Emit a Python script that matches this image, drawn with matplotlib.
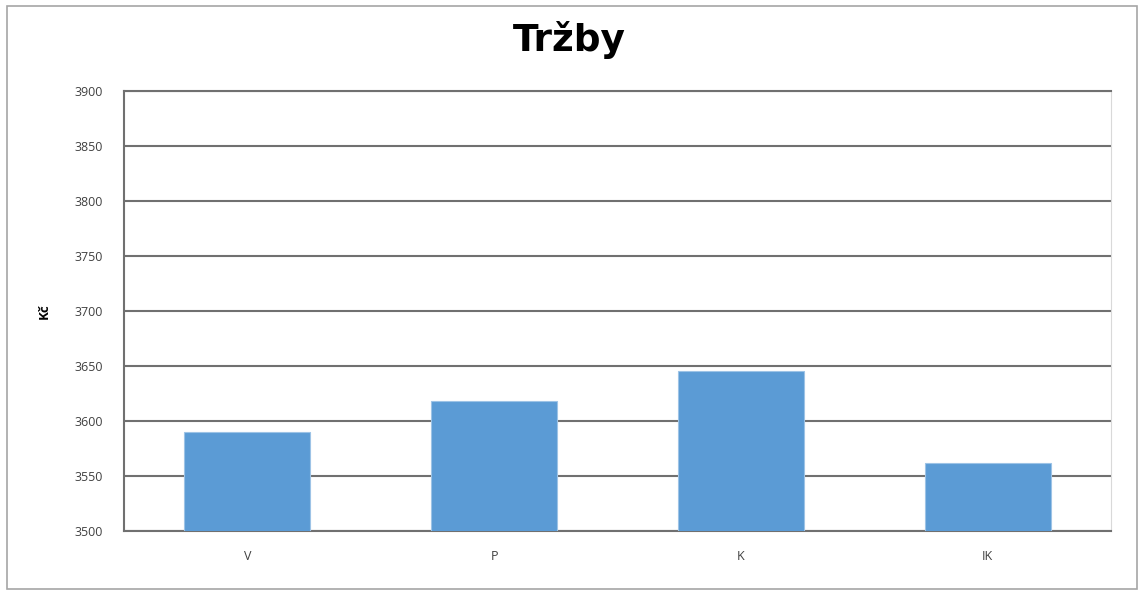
import matplotlib
matplotlib.use('Agg')
import matplotlib.pyplot as plt
from matplotlib.patches import Rectangle

categories = ['V', 'P', 'K', 'IK']
sales = [3590, 3618, 3645, 3562]
yticks = [3500, 3550, 3600, 3650, 3700, 3750, 3800, 3850, 3900]

plt.rcParams['font.family'] = ['Open Sans', 'DejaVu Sans']

fig = plt.figure(figsize=(11.39, 5.90), dpi=100)
ax = fig.add_axes([124 / 1139, 1 - 531 / 590, 987 / 1139, 440 / 590])

x = range(len(categories))
ax.bar(x, sales, width=0.51, color='#5b9bd5', edgecolor='#9dc3e6', linewidth=0.8, zorder=3)

ax.set_xlim(-0.5, len(categories) - 0.5)
ax.set_ylim(3500, 3900)
ax.set_yticks(yticks)
ax.set_xticks(list(x))
ax.set_xticklabels(categories)
ax.tick_params(axis='both', length=0, labelsize=9, colors='#404040')
ax.tick_params(axis='x', pad=14)
ax.tick_params(axis='y', pad=15)

ax.yaxis.grid(True, color='#707070', linewidth=1.5, zorder=0)
ax.set_axisbelow(True)
for side in ['top', 'bottom', 'left']:
    ax.spines[side].set_color('#707070')
    ax.spines[side].set_linewidth(1.5)
ax.spines['right'].set_color('#d9d9d9')

ax.set_ylabel('Kč', fontsize=9.5, fontweight='bold', labelpad=17)
fig.text(0.5, 1 - 40 / 590, 'Tržby', ha='center', va='center', fontsize=27, fontweight='bold',
         family=['DejaVu Sans'])

# outer chart border
fig.patches.append(Rectangle((7 / 1139, 0.002), 1130 / 1139, 1 - 6 / 590 - 0.002,
                             transform=fig.transFigure, fill=False, edgecolor='#a6a6a6', linewidth=1.2))

fig.savefig('out.png', dpi=100)
